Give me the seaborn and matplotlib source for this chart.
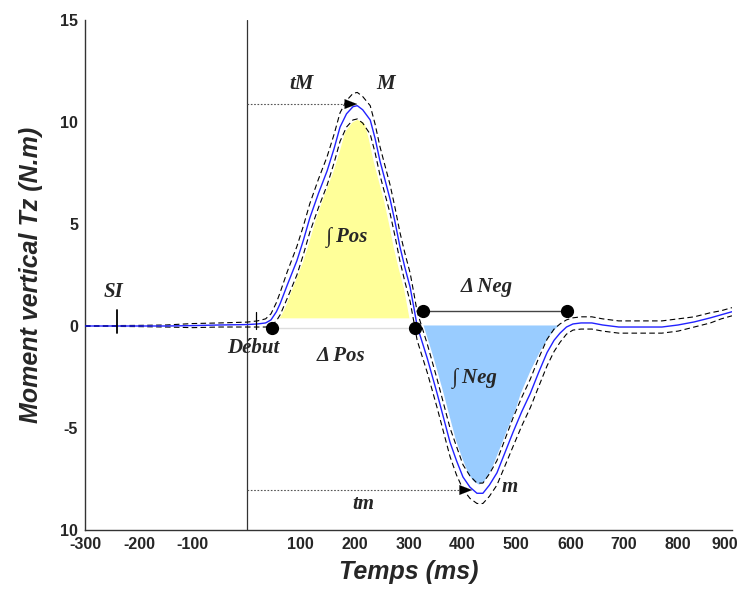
import numpy as np
import pandas as pd
import matplotlib
matplotlib.use("Agg")
import matplotlib.pyplot as plt
import matplotlib.transforms as mtrans
import seaborn as sns

# ---- data ----
time_ms = [-300, -250, -200, -150, -100, -50, 0, 20, 35, 45, 55, 62, 75, 93, 105, 117,
           133, 149, 162, 173, 185, 197, 205, 215, 229, 238, 247, 257, 266, 275, 284,
           293, 303, 310, 316, 335, 353, 365, 377, 389, 401, 414, 427, 438, 450, 464,
           479, 494, 510, 526, 541, 557, 570, 581, 593, 605, 620, 640, 660, 690, 730,
           770, 800, 830, 860, 880, 900]
mean_tz = [0.0, 0.0, 0.0, 0.0, 0.02, 0.05, 0.07, 0.1, 0.15, 0.3, 0.7, 1.1, 2.0, 3.2, 4.2, 5.3,
           6.5, 7.6, 8.7, 9.75, 10.4, 10.75, 10.8, 10.6, 10.1, 9.2, 8.1, 7.1, 6.2, 5.1, 3.9,
           2.9, 1.9, 0.9, 0.0, -1.6, -3.3, -4.5, -5.7, -6.6, -7.4, -7.9, -8.2, -8.2, -7.8, -7.2,
           -6.2, -5.2, -4.2, -3.3, -2.3, -1.3, -0.7, -0.35, -0.05, 0.1, 0.15, 0.15, 0.05, -0.05, -0.05,
           -0.05, 0.05, 0.2, 0.4, 0.55, 0.7]
sd_tz = [0.02, 0.02, 0.03, 0.05, 0.1, 0.1, 0.12, 0.15, 0.2, 0.3, 0.45, 0.55, 0.65, 0.7, 0.7, 0.7,
         0.7, 0.7, 0.7, 0.7, 0.65, 0.65, 0.65, 0.65, 0.7, 0.7, 0.7, 0.7, 0.7, 0.7, 0.7,
         0.7, 0.7, 0.7, 0.7, 0.7, 0.7, 0.7, 0.7, 0.7, 0.6, 0.55, 0.5, 0.5, 0.55, 0.6,
         0.65, 0.7, 0.7, 0.7, 0.7, 0.65, 0.55, 0.45, 0.35, 0.3, 0.3, 0.3, 0.3, 0.3, 0.3,
         0.3, 0.3, 0.25, 0.25, 0.2, 0.2]

# shaded areas (boundaries)
pos_fill_t = [34, 62, 86.5, 108, 127, 145, 164, 179, 195, 204, 216, 229, 241, 253, 266, 278, 290.5, 303, 312]
pos_fill_top = [0.46, 1.27, 2.42, 3.89, 5.36, 6.83, 8.3, 9.44, 10.0, 10.13, 10.0, 9.44, 8.14, 6.83, 5.36, 3.89, 2.58, 1.27, 0.46]
pos_fill_base = 0.4
neg_fill_t = [324.7, 340, 355.5, 371, 386, 402, 417, 430, 445, 460.7, 476, 491.6, 507, 525.6, 544, 562.7, 581]
neg_fill_bottom = [0.05, -1.67, -3.3, -4.6, -5.9, -6.9, -7.55, -7.75, -7.55, -6.9, -5.9, -4.6, -3.3, -2.16, -1.18, -0.44, 0.05]
neg_fill_base = 0.05

# event markers
delta_pos_t = [47, 312]
delta_pos_v = [-0.1, -0.1]
delta_neg_t = [327, 594]
delta_neg_v = [0.75, 0.75]
si_t = -240
debut_t = 18
tM_t, tM_v = 205, 10.88
tm_t, tm_v = 418, -8.04

x_ticks = [-300, -200, -100, 0, 100, 200, 300, 400, 500, 600, 700, 800, 900]
x_tick_labels = ["-300", "-200", "-100", "", "100", "200", "300", "400", "500", "600", "700", "800", "900"]
y_ticks = [15, 10, 5, 0, -5, -10]
y_tick_labels = ["15", "10", "5", "0", "-5", "10"]

# ---- figure ----
sns.set_style("white")
plt.rcParams["font.family"] = ["Liberation Sans", "DejaVu Sans"]

fig = plt.figure(figsize=(7.42, 5.90), dpi=100)
ax = fig.add_axes([85 / 742, 60 / 590, (732 - 85) / 742, (530 - 20) / 590])

df = pd.DataFrame({"t": time_ms, "mean": mean_tz, "sd": sd_tz})
df["upper"] = df["mean"] + df["sd"]
df["lower"] = df["mean"] - df["sd"]

ax.fill_between(pos_fill_t, pos_fill_base, pos_fill_top, color="#FFFF99", lw=0, zorder=1)
ax.fill_between(neg_fill_t, neg_fill_base, neg_fill_bottom, color="#99CCFF", lw=0, zorder=1)

# white halo that separates the shaded areas from the curves
sns.lineplot(data=df, x="t", y="mean", ax=ax, color="white", lw=9, sort=False, zorder=1.5)

sns.lineplot(data=df, x="t", y="upper", ax=ax, color="black", lw=0.8, sort=False, zorder=3)
sns.lineplot(data=df, x="t", y="lower", ax=ax, color="black", lw=0.8, sort=False, zorder=3)
for ln in ax.lines[1:]:
    ln.set_linestyle((0, (5, 3)))
sns.lineplot(data=df, x="t", y="mean", ax=ax, color="#2222FF", lw=1.0, sort=False, zorder=4)

# vertical line at t = 0
ax.axvline(0, color="#333333", lw=0.9, zorder=2.5)

# delta lines and dots
ax.plot(delta_pos_t, delta_pos_v, color="#DDDDDD", lw=1.0, zorder=2)
ax.plot(delta_neg_t, delta_neg_v, color="#444444", lw=1.0, zorder=2)
ax.plot(delta_pos_t, delta_pos_v, "o", color="black", ms=8.5, zorder=6)
ax.plot(delta_neg_t, delta_neg_v, "o", color="black", ms=8.5, zorder=6)

# SI and Début ticks
ax.plot([si_t, si_t], [0.8, -0.35], color="black", lw=1.3, zorder=5)
ax.plot([debut_t, debut_t], [0.7, -0.15], color="black", lw=0.9, zorder=5)

# dotted arrows for tM and tm
for tip_t, tip_v in [(tM_t, tM_v), (tm_t, tm_v)]:
    ax.plot([0, tip_t - 12], [tip_v, tip_v], ls=(0, (1.5, 1.5)), color="#555555", lw=0.8, zorder=5)
    ax.annotate("", xy=(tip_t, tip_v), xytext=(tip_t - 25, tip_v),
                arrowprops=dict(arrowstyle="-|>,head_length=0.9,head_width=0.35",
                                color="black", lw=0.1, shrinkA=0, shrinkB=0), zorder=6)

# annotations
serif = ["Liberation Serif", "DejaVu Serif"]
tkw = dict(fontsize=15, fontstyle="italic", fontweight="bold", family=serif,
           ha="center", va="center", zorder=7)
ax.text(102, 11.86, "tM", **tkw)
ax.text(258, 11.86, "M", **tkw)
ax.text(186, 4.36, "\u222b Pos", **tkw)
ax.text(423, -2.55, "\u222b Neg", **tkw)
ax.text(175, -1.47, "\u0394 Pos", **tkw)
ax.text(446, 1.91, "\u0394 Neg", **tkw)
ax.text(216, -8.73, "tm", **tkw)
ax.text(488, -7.9, "m", **tkw)
ax.text(13, -1.08, "Début", **tkw)
ax.text(-248, 1.67, "SI", **tkw)

# axes
ax.set_xlim(-300, 900)
ax.set_ylim(-10, 15)
ax.set_xticks(x_ticks)
ax.set_xticklabels(x_tick_labels)
ax.set_yticks(y_ticks)
ax.set_yticklabels(y_tick_labels)
ax.tick_params(axis="both", direction="in", length=6, width=1, color="#333333",
               labelsize=11.5, pad=5)
for lab in ax.get_xticklabels() + ax.get_yticklabels():
    lab.set_fontweight("bold")
last = ax.get_xticklabels()[-1]
last.set_transform(last.get_transform() + mtrans.ScaledTranslation(-5 / 72, 0, fig.dpi_scale_trans))

for side in ["top", "right"]:
    ax.spines[side].set_visible(False)
for side in ["left", "bottom"]:
    ax.spines[side].set_color("#333333")
    ax.spines[side].set_linewidth(1.0)

ax.set_xlabel("Temps (ms)", fontsize=18, fontweight="bold", fontstyle="italic", labelpad=6)
ax.set_ylabel("Moment vertical Tz (N.m)", fontsize=18, fontweight="bold", fontstyle="italic", labelpad=12)

fig.savefig("out.png", dpi=100)
